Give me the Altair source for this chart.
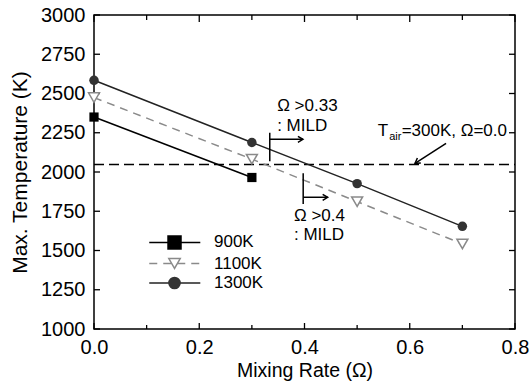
import altair as alt
import pandas as pd

# ---------------- data ----------------
mix_900 = [0.0, 0.3]
temp_900 = [2350, 1965]
mix_1100 = [0.0, 0.3, 0.5, 0.7]
temp_1100 = [2474, 2082, 1811, 1542]
mix_1300 = [0.0, 0.3, 0.5, 0.7]
temp_1300 = [2584, 2188, 1926, 1654]
ref_temp = 2047  # T_air = 300K, Omega = 0.0

x_major = [0.0, 0.2, 0.4, 0.6, 0.8]
x_minor = [0.1, 0.3, 0.5, 0.7]
y_ticks = [1000, 1250, 1500, 1750, 2000, 2250, 2500, 2750, 3000]

legend_labels = ["900K", "1100K", "1300K"]
legend_temps = [1551, 1417, 1293]
legend_x0, legend_x1, legend_xm, legend_xt = 0.105, 0.202, 0.153, 0.228

annot_text = ["\u03a9 >0.33", ": MILD", "\u03a9 >0.4", ": MILD"]
annot_x = [0.348, 0.348, 0.380, 0.380]
annot_y = [2420, 2293, 1720, 1599]

seg_x = [0.334, 0.334, 0.3975, 0.3975, 0.669]
seg_x2 = [0.334, 0.397, 0.3975, 0.444, 0.610]
seg_y = [2250, 2208, 1992, 1839, 2183]
seg_y2 = [2068, 2208, 1796, 1839, 2055]

head_x = [0.397, 0.444, 0.610]
head_y = [2208, 1839, 2055]
head_angle = [0, 0, 145]

tair_x = 0.539
tair_y = 2264

FONT = "Liberation Sans"
W, H = 421, 314

xsc = alt.Scale(domain=[0, 0.8], nice=False, zero=False)
ysc = alt.Scale(domain=[1000, 3000], nice=False, zero=False)

x_axis = alt.Axis(values=x_major, format=".1f", title="Mixing Rate (\u03a9)",
                  labelFontSize=20, titleFontSize=19.5, titleFontWeight="normal",
                  labelPadding=8, titlePadding=4, ticks=False, tickSize=0,
                  domain=False, grid=False, labelColor="black", titleColor="black",
                  labelFont=FONT, titleFont=FONT, labelFlush=False, labelOverlap=False)
y_axis = alt.Axis(values=y_ticks, format="d", title="Max. Temperature (K)",
                  labelFontSize=20, titleFontSize=21, titleFontWeight="normal",
                  labelPadding=9, titlePadding=10, ticks=False, tickSize=0,
                  domain=False, grid=False, labelColor="black", titleColor="black",
                  labelFont=FONT, titleFont=FONT, labelOverlap=False)


def X(field="x"):
    return alt.X(f"{field}:Q", scale=xsc, axis=x_axis)


def Y(field="y"):
    return alt.Y(f"{field}:Q", scale=ysc, axis=y_axis)


layers = []

# ---- series first (carries both axes) ----
df900 = pd.DataFrame({"x": mix_900, "y": temp_900})
df1100 = pd.DataFrame({"x": mix_1100, "y": temp_1100})
df1300 = pd.DataFrame({"x": mix_1300, "y": temp_1300})

# ---- reference dashed line ----
df_ref = pd.DataFrame({"x": [0.0], "x2": [0.8], "y": [ref_temp]})
layers.append(alt.Chart(df_ref).mark_rule(color="black", strokeWidth=1.5, strokeDash=[10, 5]).encode(
    x=X(), x2="x2:Q", y=Y()))

# ---- inward ticks (frame) ----
df_xmaj = pd.DataFrame({"x": x_major})
df_xmin = pd.DataFrame({"x": x_minor})
df_yt = pd.DataFrame({"y": y_ticks})
tick_style = dict(color="black", strokeWidth=1.3)
layers.append(alt.Chart(df_xmaj).mark_rule(**tick_style).encode(x=X(), y=alt.value(H), y2=alt.value(H - 6)))
layers.append(alt.Chart(df_xmin).mark_rule(**tick_style).encode(x=X(), y=alt.value(H), y2=alt.value(H - 4)))
layers.append(alt.Chart(df_xmaj).mark_rule(**tick_style).encode(x=X(), y=alt.value(0), y2=alt.value(7)))
layers.append(alt.Chart(df_xmin).mark_rule(**tick_style).encode(x=X(), y=alt.value(0), y2=alt.value(5)))
layers.append(alt.Chart(df_yt).mark_rule(**tick_style).encode(y=Y(), x=alt.value(0), x2=alt.value(6)))
layers.append(alt.Chart(df_yt).mark_rule(**tick_style).encode(y=Y(), x=alt.value(W), x2=alt.value(W - 6)))

layers.append(alt.Chart(df900).mark_line(color="black", strokeWidth=1.5).encode(x=X(), y=Y()))
layers.append(alt.Chart(df1100).mark_line(color="#8a8a8a", strokeWidth=1.5, strokeDash=[8, 6]).encode(x=X(), y=Y()))
layers.append(alt.Chart(df1300).mark_line(color="#222222", strokeWidth=1.5).encode(x=X(), y=Y()))

layers.append(alt.Chart(df900).mark_point(shape="square", filled=True, color="black", size=85, opacity=1).encode(x=X(), y=Y()))
layers.append(alt.Chart(df1100).mark_point(shape="triangle-down", filled=True, fill="white", stroke="#8a8a8a",
                                           strokeWidth=1.5, size=120, opacity=1).encode(x=X(), y=Y()))
layers.append(alt.Chart(df1300).mark_point(shape="circle", filled=True, color="#333333", size=90, opacity=1).encode(x=X(), y=Y()))

# ---- legend ----
leg_line_styles = [dict(color="black"), dict(color="#8a8a8a", strokeDash=[8, 6]), dict(color="#222222")]
leg_marks = [dict(shape="square", filled=True, color="black", size=210, opacity=1),
             dict(shape="triangle-down", filled=True, fill="white", stroke="#8a8a8a", strokeWidth=1.5, size=130, opacity=1),
             dict(shape="circle", filled=True, color="#333333", size=160, opacity=1)]
for lab, t, ls, mk in zip(legend_labels, legend_temps, leg_line_styles, leg_marks):
    d = pd.DataFrame({"x": [legend_x0], "x2": [legend_x1], "xm": [legend_xm], "xt": [legend_xt], "y": [t], "label": [lab]})
    layers.append(alt.Chart(d).mark_rule(strokeWidth=1.5, **ls).encode(x=X(), x2="x2:Q", y=Y()))
    layers.append(alt.Chart(d).mark_point(**mk).encode(x=X("xm"), y=Y()))
    layers.append(alt.Chart(d).mark_text(align="left", baseline="middle", fontSize=17, font=FONT, color="black").encode(
        x=X("xt"), y=Y(), text="label:N"))

# ---- annotations ----
df_ann = pd.DataFrame({"x": annot_x, "y": annot_y, "t": annot_text})
layers.append(alt.Chart(df_ann).mark_text(align="left", baseline="middle", fontSize=17, font=FONT, color="black").encode(
    x=X(), y=Y(), text="t:N"))

df_seg = pd.DataFrame({"x": seg_x, "x2": seg_x2, "y": seg_y, "y2": seg_y2})
layers.append(alt.Chart(df_seg).mark_rule(color="black", strokeWidth=1.5).encode(
    x=X(), x2="x2:Q", y=Y(), y2="y2:Q"))

df_head = pd.DataFrame({"x": head_x, "y": head_y, "a": head_angle})
layers.append(alt.Chart(df_head).mark_point(shape="M-1,-0.6L0,0L-1,0.6", filled=False, color="black",
                                            strokeWidth=1.5, size=100, opacity=1).encode(
    x=X(), y=Y(), angle=alt.Angle("a:Q", scale=None)))

df_tair = pd.DataFrame({"x": [tair_x], "y": [tair_y]})
layers.append(alt.Chart(df_tair).mark_text(text="T", align="left", baseline="middle", fontSize=17, font=FONT, color="black").encode(x=X(), y=Y()))
layers.append(alt.Chart(df_tair).mark_text(text="air", align="left", baseline="middle", fontSize=11, font=FONT, color="black",
                                           dx=11.5, dy=6).encode(x=X(), y=Y()))
layers.append(alt.Chart(df_tair).mark_text(text="=300K, \u03a9=0.0", align="left", baseline="middle", fontSize=17, font=FONT,
                                           color="black", dx=24).encode(x=X(), y=Y()))

chart = alt.layer(*layers).properties(
    width=W, height=H,
    padding={"left": 94, "top": 15, "right": 16, "bottom": 58},
    autosize=alt.AutoSizeParams(type="none"),
    background="white",
).configure_view(stroke="black", strokeWidth=1.5)

chart.save("out.html", embed_options={"renderer": "svg", "actions": False})
